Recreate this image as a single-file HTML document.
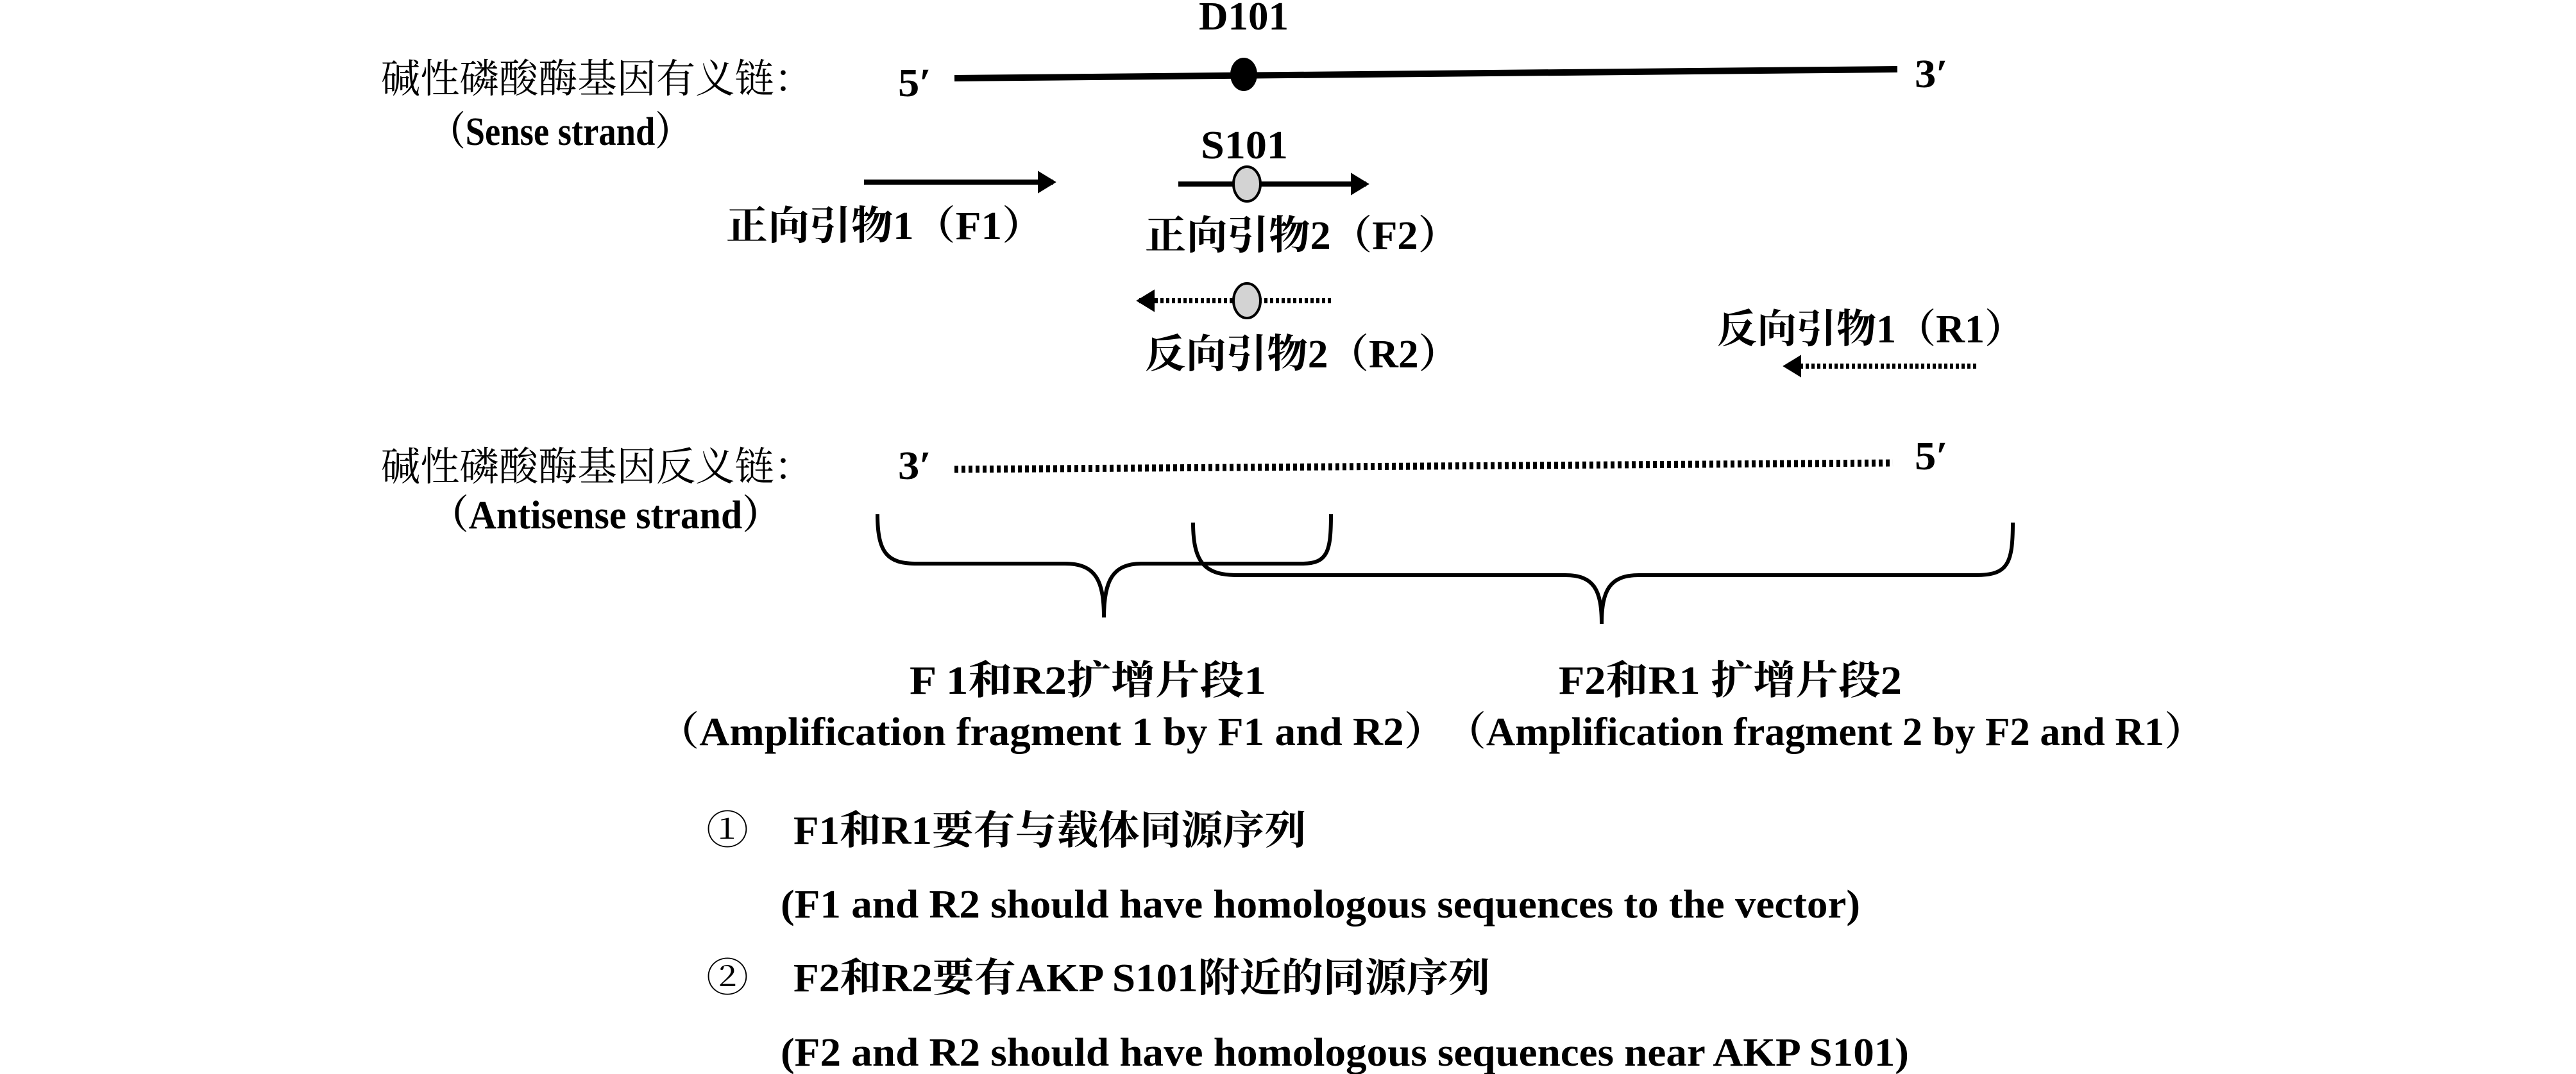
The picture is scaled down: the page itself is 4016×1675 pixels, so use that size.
<!DOCTYPE html>
<html><head><meta charset="utf-8"><style>
html,body{margin:0;padding:0;background:#fff;}
svg{display:block}
text{font-family:"Liberation Serif","Noto Serif CJK SC",serif;font-weight:bold;fill:#000;font-size:62px}
</style></head><body>
<svg width="4016" height="1675" viewBox="0 0 4016 1675" xmlns="http://www.w3.org/2000/svg">
<defs>
<marker id="ah" markerWidth="6" markerHeight="6" refX="3" refY="3" orient="auto" markerUnits="strokeWidth"><path d="M0,0.8 L3.6,3 L0,5.2 Z" fill="#000"/></marker>
</defs>
<text x="594" y="144" textLength="674" lengthAdjust="spacingAndGlyphs" style="font-weight:normal">碱性磷酸酶基因有义链：</text>
<text x="671" y="226" textLength="405" lengthAdjust="spacingAndGlyphs">（Sense strand）</text>
<text x="1400" y="150" textLength="52" lengthAdjust="spacingAndGlyphs">5′</text>
<line x1="1488" y1="122" x2="2958" y2="108" stroke="#000" stroke-width="10"/>
<ellipse cx="1939" cy="116" rx="21" ry="26" fill="#000"/>
<text x="2985" y="136" textLength="52" lengthAdjust="spacingAndGlyphs">3′</text>
<text x="1869" y="46" textLength="140" lengthAdjust="spacingAndGlyphs">D101</text>
<text x="1872" y="247" textLength="136" lengthAdjust="spacingAndGlyphs">S101</text>
<line x1="1347" y1="284" x2="1642" y2="284" stroke="#000" stroke-width="8" marker-end="url(#ah)"/>
<text x="1132" y="373" textLength="495" lengthAdjust="spacingAndGlyphs">正向引物1（F1）</text>
<line x1="1837" y1="287" x2="2130" y2="287" stroke="#000" stroke-width="8" marker-end="url(#ah)"/>
<ellipse cx="1944" cy="287" rx="21" ry="27" fill="#d3d3d3" stroke="#000" stroke-width="4"/>
<text x="1785" y="388" textLength="490" lengthAdjust="spacingAndGlyphs">正向引物2（F2）</text>
<line x1="2075" y1="469" x2="1776" y2="469" stroke="#000" stroke-width="8" stroke-dasharray="5 4" marker-end="url(#ah)"/>
<ellipse cx="1944" cy="469" rx="21" ry="27" fill="#d3d3d3" stroke="#000" stroke-width="4"/>
<text x="1785" y="573" textLength="490" lengthAdjust="spacingAndGlyphs">反向引物2（R2）</text>
<text x="2677" y="534" textLength="479" lengthAdjust="spacingAndGlyphs">反向引物1（R1）</text>
<line x1="3081" y1="571" x2="2784" y2="571" stroke="#000" stroke-width="8" stroke-dasharray="5 4" marker-end="url(#ah)"/>
<text x="594" y="749" textLength="674" lengthAdjust="spacingAndGlyphs" style="font-weight:normal">碱性磷酸酶基因反义链：</text>
<text x="671" y="824" textLength="546" lengthAdjust="spacingAndGlyphs">（Antisense strand）</text>
<text x="1400" y="747" textLength="52" lengthAdjust="spacingAndGlyphs">3′</text>
<line x1="1488" y1="732" x2="2951" y2="722" stroke="#000" stroke-width="11" stroke-dasharray="6 5"/>
<text x="2985" y="732" textLength="52" lengthAdjust="spacingAndGlyphs">5′</text>
<path d="M1368,802 C1368,865 1385,879 1430,879 L1660,879 C1708,879 1721,905 1721,963 C1721,905 1735,879 1780,879 L2030,879 C2070,879 2075,860 2075,802" fill="none" stroke="#000" stroke-width="6"/>
<path d="M1860,815 C1860,880 1880,897 1930,897 L2440,897 C2485,897 2497,920 2497,973 C2497,920 2510,897 2555,897 L3080,897 C3130,897 3138,880 3138,815" fill="none" stroke="#000" stroke-width="6"/>
<text x="1418" y="1082" textLength="556" lengthAdjust="spacingAndGlyphs">F 1和R2扩增片段1</text>
<text x="2430" y="1082" textLength="535" lengthAdjust="spacingAndGlyphs">F2和R1 扩增片段2</text>
<text x="1025" y="1162" textLength="1229" lengthAdjust="spacingAndGlyphs">（Amplification fragment 1 by F1 and R2）</text>
<text x="2254" y="1162" textLength="1183" lengthAdjust="spacingAndGlyphs">（Amplification fragment 2 by F2 and R1）</text>
<text x="1101" y="1316" textLength="66" lengthAdjust="spacingAndGlyphs" style="font-weight:normal">①</text>
<text x="1237" y="1316" textLength="799" lengthAdjust="spacingAndGlyphs">F1和R1要有与载体同源序列</text>
<text x="1217" y="1431" textLength="1683" lengthAdjust="spacingAndGlyphs">(F1 and R2 should have homologous sequences to the vector)</text>
<text x="1101" y="1546" textLength="66" lengthAdjust="spacingAndGlyphs" style="font-weight:normal">②</text>
<text x="1237" y="1546" textLength="1086" lengthAdjust="spacingAndGlyphs">F2和R2要有AKP S101附近的同源序列</text>
<text x="1217" y="1662" textLength="1759" lengthAdjust="spacingAndGlyphs">(F2 and R2 should have homologous sequences near AKP S101)</text>
</svg>
</body></html>
